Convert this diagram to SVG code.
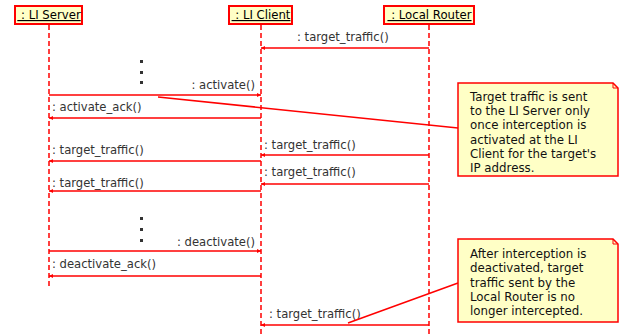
<svg xmlns="http://www.w3.org/2000/svg" width="636" height="336" viewBox="0 0 636 336">
<style>
.hd{fill:#ffffc6;stroke:#ff0000;stroke-width:2}
.ht{font-family:"DejaVu Sans",sans-serif;font-size:11.7px;fill:#000;text-decoration:underline}
.ll{stroke:#ff0000;stroke-width:1.5;stroke-dasharray:5,3;fill:none}
.msg{stroke:#ff0000;stroke-width:1.5;fill:none}
.lb{font-family:"DejaVu Sans",sans-serif;font-size:11.6px;fill:#333}
.nt{fill:#ffffc6;stroke:#ff0000;stroke-width:1.5}
.ntt{font-family:"DejaVu Sans",sans-serif;font-size:11.8px;fill:#111}
.dot{fill:#333}
</style>
<defs>
<marker id="ah" viewBox="0 0 6 6" refX="6" refY="3" markerWidth="4" markerHeight="4" orient="auto" markerUnits="userSpaceOnUse">
<path d="M0,0 L6,3 L0,6 z" fill="#ff0000"/>
</marker>
</defs>
<g id="server">
<line class="ll" x1="49" y1="25" x2="49" y2="289"/>
<rect class="hd" x="15" y="6" width="67" height="18"/>
<text class="ht" x="49" y="19" text-anchor="middle">&#160;: LI Server</text>
</g>
<g id="client">
<line class="ll" x1="261" y1="25" x2="261" y2="336"/>
<rect class="hd" x="229" y="6" width="63" height="18"/>
<text class="ht" x="261" y="19" text-anchor="middle">&#160;: LI Client</text>
</g>
<g id="router">
<line class="ll" x1="429" y1="25" x2="429" y2="336"/>
<rect class="hd" x="384" y="6" width="90" height="18"/>
<text class="ht" x="429.5" y="19" text-anchor="middle">&#160;: Local Router</text>
</g>
<g id="dots1">
<rect class="dot" x="140" y="60" width="3" height="3"/>
<rect class="dot" x="140" y="71" width="3" height="3"/>
<rect class="dot" x="140" y="81" width="3" height="3"/>
</g>
<g id="dots2">
<rect class="dot" x="140" y="217" width="3" height="3"/>
<rect class="dot" x="140" y="228" width="3" height="3"/>
<rect class="dot" x="140" y="239" width="3" height="3"/>
</g>
<g id="connectors">
<line class="msg" x1="429" y1="48" x2="261" y2="48" marker-end="url(#ah)"/>
<text class="lb" x="297" y="41">: target_traffic()</text>
<line class="msg" x1="49" y1="95" x2="261" y2="95" marker-end="url(#ah)"/>
<text class="lb" x="255" y="89" text-anchor="end">: activate()</text>
<line class="msg" x1="261" y1="118" x2="49" y2="118" marker-end="url(#ah)"/>
<text class="lb" x="52" y="111">: activate_ack()</text>
<line class="msg" x1="429" y1="155" x2="261" y2="155" marker-end="url(#ah)"/>
<text class="lb" x="264" y="149">: target_traffic()</text>
<line class="msg" x1="261" y1="161" x2="49" y2="161" marker-end="url(#ah)"/>
<text class="lb" x="52" y="154">: target_traffic()</text>
<line class="msg" x1="429" y1="184" x2="261" y2="184" marker-end="url(#ah)"/>
<text class="lb" x="264" y="176">: target_traffic()</text>
<line class="msg" x1="261" y1="191" x2="49" y2="191" marker-end="url(#ah)"/>
<text class="lb" x="52" y="187">: target_traffic()</text>
<line class="msg" x1="49" y1="251" x2="261" y2="251" marker-end="url(#ah)"/>
<text class="lb" x="255" y="246" text-anchor="end">: deactivate()</text>
<line class="msg" x1="261" y1="276" x2="49" y2="276" marker-end="url(#ah)"/>
<text class="lb" x="52" y="268">: deactivate_ack()</text>
<line class="msg" x1="429" y1="325" x2="261" y2="325" marker-end="url(#ah)"/>
<text class="lb" x="269" y="318">: target_traffic()</text>
<line class="msg" x1="158" y1="97" x2="458" y2="128"/>
<line class="msg" x1="348" y1="323" x2="458" y2="283"/>
</g>
<g id="note1">
<path class="nt" d="M458,83 H613 L618,88 V176 H458 Z"/>
<path d="M613,83 V88 H618" fill="none" stroke="#ff0000" stroke-width="1"/>
<text class="ntt" x="470" y="101">Target traffic is sent</text>
<text class="ntt" x="470" y="115">to the LI Server only</text>
<text class="ntt" x="470" y="129">once interception is</text>
<text class="ntt" x="470" y="144">activated at the LI</text>
<text class="ntt" x="470" y="158">Client for the target's</text>
<text class="ntt" x="470" y="172">IP address.</text>
</g>
<g id="note2">
<path class="nt" d="M458,239 H613 L618,244 V322 H458 Z"/>
<path d="M613,239 V244 H618" fill="none" stroke="#ff0000" stroke-width="1"/>
<text class="ntt" x="470" y="258">After interception is</text>
<text class="ntt" x="470" y="272">deactivated, target</text>
<text class="ntt" x="470" y="287">traffic sent by the</text>
<text class="ntt" x="470" y="301">Local Router is no</text>
<text class="ntt" x="470" y="315">longer intercepted.</text>
</g>
</svg>
